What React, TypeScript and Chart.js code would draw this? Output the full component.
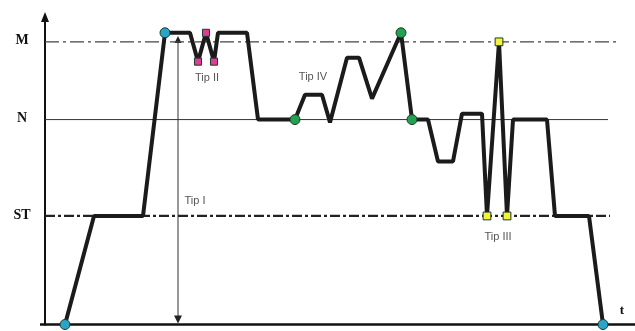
import { useEffect, useRef } from "react";
import { Chart, registerables } from "chart.js";
Chart.register(...registerables);

// Load levels (label, value, end of the reference line in time units)
const levelNames = ["ST", "N", "M"];
const levelValues = [38.4, 72.5, 100];
const levelEnds = [113, 112.6, 114.4];

// Load path over time
const pathTime = [4, 9.8, 19.6, 24, 29, 30.6, 32.2, 33.8, 34.6, 40.4, 42.6, 50, 52, 55.4, 57, 60.4, 62.8, 65.4, 71.2, 73.4, 76.6, 78.6, 81.6, 83.4, 87.4, 88.4, 90.8, 92.4, 93.6, 100.4, 102, 108.8, 111.6];
const pathLoad = [0, 38.4, 38.4, 103.2, 103.2, 93, 103.2, 93, 103.2, 103.2, 72.5, 72.5, 81.3, 81.3, 71.5, 94.4, 94.4, 79.9, 103.2, 72.5, 72.5, 57.7, 57.7, 74.6, 74.6, 38.4, 100, 38.4, 72.5, 72.5, 38.4, 38.4, 0];

// Markers
const cyanTime = [4, 24, 111.6];
const cyanLoad = [0, 103.2, 0];
const pinkTime = [30.6, 32.2, 33.8];
const pinkLoad = [93, 103.2, 93];
const greenTime = [50, 71.2, 73.4];
const greenLoad = [72.5, 103.2, 72.5];
const yellowTime = [88.4, 90.8, 92.4];
const yellowLoad = [38.4, 100, 38.4];

// Annotations
const tipNames = ["Tip I", "Tip II", "Tip III", "Tip IV"];
const tipTime = [30, 32.4, 90.6, 53.6];
const tipLoad = [43.7, 87.3, 31, 87.7];
const tipArrowTime = 26.6;
const tipArrowTop = 102.1;
const axisTop = 110.6;
const axisEnd = 118;
const timeLabel = "t";

const toPts = (xs: number[], ys: number[]) => xs.map((x, i) => ({ x, y: ys[i] }));

export default function App() {
  const ref = useRef<HTMLCanvasElement | null>(null);
  useEffect(() => {
    if (!ref.current) return;
    const drawPlugin = {
      id: "deco",
      beforeDatasetsDraw(chart: any) {
        const { ctx, scales } = chart;
        const xs = scales.x, ys = scales.y;
        const x0 = xs.getPixelForValue(0);
        const y0 = ys.getPixelForValue(0);
        ctx.save();
        ctx.strokeStyle = "#111";
        ctx.fillStyle = "#111";
        // y axis
        const yTop = ys.getPixelForValue(axisTop);
        ctx.lineWidth = 2;
        ctx.beginPath();
        ctx.moveTo(x0, y0 + 1);
        ctx.lineTo(x0, yTop + 8);
        ctx.stroke();
        ctx.beginPath();
        ctx.moveTo(x0, yTop);
        ctx.lineTo(x0 - 4, yTop + 10);
        ctx.lineTo(x0 + 4, yTop + 10);
        ctx.closePath();
        ctx.fill();
        // x axis
        ctx.lineWidth = 2.5;
        ctx.beginPath();
        ctx.moveTo(x0 - 5, y0);
        ctx.lineTo(xs.getPixelForValue(axisEnd), y0);
        ctx.stroke();
        // Tip I arrow
        const ax = xs.getPixelForValue(tipArrowTime);
        const aTop = ys.getPixelForValue(tipArrowTop);
        ctx.lineWidth = 1;
        ctx.strokeStyle = "#333";
        ctx.beginPath();
        ctx.moveTo(ax, aTop + 4);
        ctx.lineTo(ax, y0 - 4);
        ctx.stroke();
        ctx.fillStyle = "#222";
        ctx.beginPath();
        ctx.moveTo(ax, aTop);
        ctx.lineTo(ax - 3.5, aTop + 7);
        ctx.lineTo(ax + 3.5, aTop + 7);
        ctx.closePath();
        ctx.fill();
        ctx.beginPath();
        ctx.moveTo(ax, y0 - 1);
        ctx.lineTo(ax - 4, y0 - 9);
        ctx.lineTo(ax + 4, y0 - 9);
        ctx.closePath();
        ctx.fill();
        ctx.restore();
      },
      afterDatasetsDraw(chart: any) {
        const { ctx, scales } = chart;
        const xs = scales.x, ys = scales.y;
        const x0 = xs.getPixelForValue(0);
        ctx.save();
        ctx.textAlign = "center";
        ctx.textBaseline = "middle";
        ctx.fillStyle = "#111";
        ctx.font = "bold 14px 'Liberation Serif'";
        levelNames.forEach((n, i) => {
          ctx.fillText(n, x0 - 23, ys.getPixelForValue(levelValues[i]) - 1);
        });
        ctx.font = "bold 13px 'Liberation Serif'";
        ctx.fillText(timeLabel, xs.getPixelForValue(115.4), ys.getPixelForValue(4.9));
        ctx.fillStyle = "#555";
        ctx.font = "11px 'Liberation Sans'";
        tipNames.forEach((n, i) => {
          ctx.fillText(n, xs.getPixelForValue(tipTime[i]), ys.getPixelForValue(tipLoad[i]));
        });
        ctx.restore();
      },
    };

    const refLine = (i: number, dash: number[], width: number, color: string) => ({
      type: "line" as const,
      data: [{ x: 0, y: levelValues[i] }, { x: levelEnds[i], y: levelValues[i] }],
      borderColor: color,
      borderWidth: width,
      borderDash: dash,
      pointRadius: 0,
      order: 3,
    });
    const markers = (xs: number[], ys: number[], color: string, style: string, r: number) => ({
      type: "scatter" as const,
      data: toPts(xs, ys),
      backgroundColor: color,
      borderColor: "#1a3a2a",
      borderWidth: 1,
      pointStyle: style,
      pointRadius: r,
      showLine: false,
      clip: false,
      order: 0,
    });

    const chart = new Chart(ref.current, {
      type: "line",
      data: {
        datasets: [
          markers(cyanTime, cyanLoad, "#2aa5c8", "circle", 5),
          markers(pinkTime, pinkLoad, "#e23a96", "rect", 5),
          markers(greenTime, greenLoad, "#23a050", "circle", 5),
          markers(yellowTime, yellowLoad, "#f3f23c", "rect", 5.5),
          {
            type: "line",
            data: toPts(pathTime, pathLoad),
            borderColor: "#1b1b1b",
            borderWidth: 4,
            pointRadius: 0,
            tension: 0,
            borderJoinStyle: "bevel",
            clip: false,
            order: 1,
          } as any,
          refLine(0, [10, 3, 3, 3], 2.2, "#222"),
          refLine(1, [], 1, "#333"),
          refLine(2, [14, 4, 3, 4], 1.2, "#444"),
        ] as any,
      },
      options: {
        animation: false,
        responsive: true,
        maintainAspectRatio: false,
        layout: { padding: { left: 45, right: 10, top: 10, bottom: 5 } },
        scales: {
          x: { type: "linear", min: 0, max: 116, display: false },
          y: { type: "linear", min: 0, max: 111.27, display: false },
        },
        plugins: { legend: { display: false }, tooltip: { enabled: false } },
      },
      plugins: [drawPlugin],
    });
    return () => chart.destroy();
  }, []);
  return (
    <div style={{ position: "absolute", left: 0, top: 0, width: 635, height: 331, background: "#fff" }}>
      <canvas ref={ref} />
    </div>
  );
}
